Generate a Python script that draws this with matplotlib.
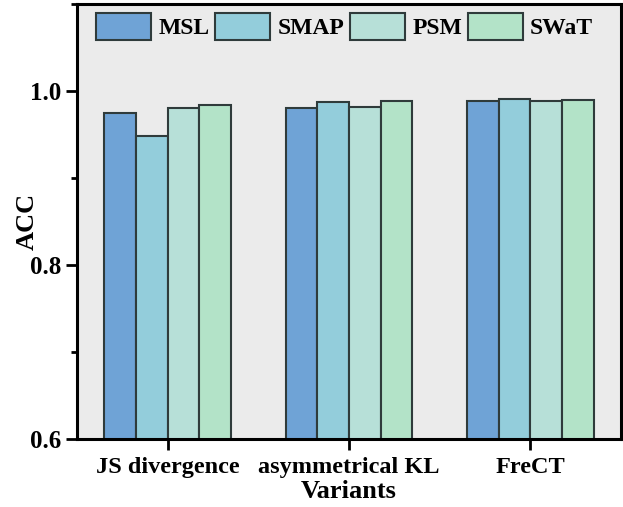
import numpy as np
import matplotlib
matplotlib.use('Agg')
import matplotlib.pyplot as plt
from matplotlib.ticker import MultipleLocator, FormatStrFormatter

plt.rcParams['font.family'] = ['Liberation Serif', 'DejaVu Serif']
plt.rcParams['font.weight'] = 'bold'

variants = ['JS divergence', 'asymmetrical KL', 'FreCT']
datasets = ['MSL', 'SMAP', 'PSM', 'SWaT']
msl = [0.975, 0.980, 0.988]
smap = [0.948, 0.987, 0.991]
psm = [0.981, 0.982, 0.988]
swat = [0.984, 0.988, 0.990]

colors = ['#6fa3d6', '#93cddb', '#b7e0d8', '#b3e3c8']

fig = plt.figure(figsize=(6.23, 5.07), dpi=100)
ax = fig.add_axes([0.1236, 0.1341, 0.8732, 0.858])
ax.set_facecolor('#ebebeb')

x = np.arange(len(variants))
w = 0.175
for i, (vals, c, lab) in enumerate(zip([msl, smap, psm, swat], colors, datasets)):
    ax.bar(x + (i - 1.5) * w, vals, w, color=c, edgecolor='#2f3b3b',
           linewidth=1.5, label=lab, zorder=2)

ax.set_xlim(-0.5, 2.5)
ax.set_ylim(0.6, 1.1)
ax.set_xticks(x)
ax.set_xticklabels(variants, fontsize=17.5, fontweight='bold')
ax.yaxis.set_major_locator(MultipleLocator(0.2))
ax.yaxis.set_minor_locator(MultipleLocator(0.1))
ax.yaxis.set_major_formatter(FormatStrFormatter('%.1f'))
ax.tick_params(axis='y', which='major', labelsize=18, length=8, width=2, pad=3)
ax.tick_params(axis='y', which='minor', length=4, width=2)
ax.tick_params(axis='x', length=8, width=2, pad=5)
for t in ax.get_yticklabels():
    t.set_fontweight('bold')
for s in ax.spines.values():
    s.set_linewidth(2.2)

ax.set_ylabel('ACC', fontsize=19, fontweight='bold')
ax.yaxis.set_label_coords(-0.07, 0.5)
ax.set_xlabel('Variants', fontsize=19, fontweight='bold', labelpad=0)
ax.xaxis.set_label_coords(0.5, -0.095)

ax.legend(loc='upper center', ncol=4, frameon=False,
          handlelength=2.33, handleheight=1.38, handletextpad=0.3,
          columnspacing=0.25, bbox_to_anchor=(0.492, 1.012), borderaxespad=0.2,
          prop={'weight': 'bold', 'size': 17})

fig.savefig('out.png', dpi=100)
